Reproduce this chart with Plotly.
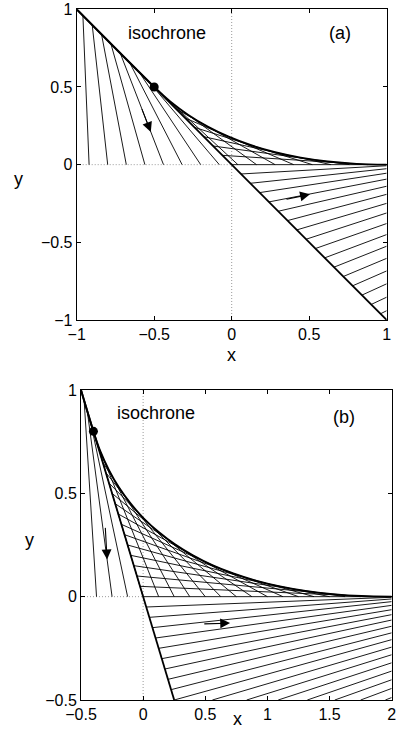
import plotly.graph_objects as go

W, H = 396, 739

# ---------------- Panel (a) data ----------------
# thick boundary line and isochrone
a_bound_x = [-1.0, 1.0]
a_bound_y = [1.0, -1.0]
a_iso_x = [-1.0, -0.5, -0.395, -0.28, -0.155, -0.02, 0.125, 0.28, 0.445, 0.62, 0.805, 1.0]
a_iso_y = [1.0, 0.5, 0.405, 0.32, 0.245, 0.18, 0.125, 0.08, 0.045, 0.02, 0.005, 0.0]
# thin rays: start (on boundary) -> end
a_x0 = [-0.96, -0.90, -0.84, -0.78, -0.72, -0.66, -0.60, -0.54, -0.48, -0.42, -0.36, -0.30,
        -0.24, -0.18, -0.12, -0.06, 0.00,
        0.06, 0.12, 0.18, 0.24, 0.30, 0.36, 0.42, 0.48, 0.54, 0.60, 0.66, 0.72, 0.78, 0.84, 0.90, 0.96]
a_y0 = [0.96, 0.90, 0.84, 0.78, 0.72, 0.66, 0.60, 0.54, 0.48, 0.42, 0.36, 0.30,
        0.24, 0.18, 0.12, 0.06, 0.00,
        -0.06, -0.12, -0.18, -0.24, -0.30, -0.36, -0.42, -0.48, -0.54, -0.60, -0.66, -0.72, -0.78, -0.84, -0.90, -0.96]
a_x1 = [-0.92, -0.80, -0.68, -0.56, -0.44, -0.32, -0.20, -0.08, 0.04, 0.16, 0.28, 0.40,
        0.52, 0.64, 0.76, 0.88, 1.00,
        1, 1, 1, 1, 1, 1, 1, 1, 1, 1, 1, 1, 1, 1, 1, 1]
a_y1 = [0] * 17 + [-0.007, -0.026, -0.055, -0.093, -0.139, -0.191, -0.249, -0.311,
                   -0.379, -0.450, -0.525, -0.603, -0.684, -0.767, -0.853, -0.940]
a_dot = (-0.5, 0.5)
a_arrows = [(-0.583, 0.367, -0.522, 0.21), (0.344, -0.225, 0.505, -0.191)]

# ---------------- Panel (b) data ----------------
b_bound_x = [-0.5, 0.25]
b_bound_y = [1.0, -0.5]
b_iso_x = [-0.5, -0.4, -0.344, -0.275, -0.194, -0.1, 0.006, 0.125, 0.256, 0.4, 0.556, 0.725,
           0.906, 1.1, 1.306, 1.525, 1.756, 2.0]
b_iso_y = [1.0, 0.8, 0.703, 0.6125, 0.528, 0.45, 0.378, 0.3125, 0.253, 0.2, 0.153, 0.1125,
           0.078, 0.05, 0.028, 0.0125, 0.003, 0.0]
b_x0 = [-0.475, -0.45, -0.425, -0.4, -0.375, -0.35, -0.325, -0.3, -0.275, -0.25, -0.225, -0.2,
        -0.175, -0.15, -0.125, -0.1, -0.075, -0.05, -0.025, 0.0,
        0.025, 0.05, 0.075, 0.1, 0.125, 0.15, 0.175, 0.2, 0.225, 0.25,
        0.557, 0.833, 1.087, 1.321, 1.542, 1.75, 1.949]
b_y0 = [0.95, 0.9, 0.85, 0.8, 0.75, 0.7, 0.65, 0.6, 0.55, 0.5, 0.45, 0.4,
        0.35, 0.3, 0.25, 0.2, 0.15, 0.1, 0.05, 0.0,
        -0.05, -0.1, -0.15, -0.2, -0.25, -0.3, -0.35, -0.4, -0.45, -0.5,
        -0.5, -0.5, -0.5, -0.5, -0.5, -0.5, -0.5]
b_x1 = [-0.375, -0.25, -0.125, 0.0, 0.125, 0.25, 0.375, 0.5, 0.625, 0.75, 0.875, 1.0,
        1.125, 1.25, 1.375, 1.5, 1.625, 1.75, 1.875, 2.0] + [2.0] * 17
b_y1 = [0] * 20 + [-0.003, -0.011, -0.024, -0.042, -0.063, -0.087, -0.113, -0.143, -0.175,
                   -0.208, -0.244, -0.281, -0.320, -0.360, -0.402, -0.444, -0.488]
b_dot = (-0.4, 0.8)
b_arrows = [(-0.305, 0.34, -0.29, 0.18), (0.48, -0.132, 0.70, -0.128)]

FONT = "Liberation Sans, Arial, Helvetica, sans-serif"
fig = go.Figure()


def segs(x0, y0, x1, y1):
    xs, ys = [], []
    for a, b, c, d in zip(x0, y0, x1, y1):
        xs += [a, c, None]
        ys += [b, d, None]
    return xs, ys


def panel(xa, ya, xr, yr, x0, y0, x1, y1, bx, by, ix, iy, dot):
    dotted = dict(color="#808080", width=0.8, dash="1px,2px")
    fig.add_trace(go.Scatter(x=[0, 0], y=[yr[0], yr[1]], mode="lines", xaxis=xa, yaxis=ya,
                             line=dotted, hoverinfo="skip"))
    fig.add_trace(go.Scatter(x=[xr[0], 0], y=[0, 0], mode="lines", xaxis=xa, yaxis=ya,
                             line=dotted, hoverinfo="skip"))
    xs, ys = segs(x0, y0, x1, y1)
    fig.add_trace(go.Scatter(x=xs, y=ys, mode="lines", xaxis=xa, yaxis=ya,
                             line=dict(color="black", width=0.9), hoverinfo="skip"))
    fig.add_trace(go.Scatter(x=bx, y=by, mode="lines", xaxis=xa, yaxis=ya,
                             line=dict(color="black", width=1.8), hoverinfo="skip"))
    fig.add_trace(go.Scatter(x=ix, y=iy, mode="lines", xaxis=xa, yaxis=ya,
                             line=dict(color="black", width=1.9, shape="spline"), hoverinfo="skip"))
    fig.add_trace(go.Scatter(x=[dot[0]], y=[dot[1]], mode="markers", xaxis=xa, yaxis=ya,
                             marker=dict(color="black", size=9), hoverinfo="skip"))


panel("x", "y", [-1, 1], [-1, 1], a_x0, a_y0, a_x1, a_y1, a_bound_x, a_bound_y, a_iso_x, a_iso_y, a_dot)
panel("x2", "y2", [-0.5, 2], [-0.5, 1], b_x0, b_y0, b_x1, b_y1, b_bound_x, b_bound_y, b_iso_x, b_iso_y, b_dot)

ann = []
for xr_, yr_, arrows in (("x", "y", a_arrows), ("x2", "y2", b_arrows)):
    for (sx, sy, ex, ey) in arrows:
        ann.append(dict(x=ex, y=ey, ax=sx, ay=sy, xref=xr_, yref=yr_, axref=xr_, ayref=yr_,
                        showarrow=True, arrowhead=2, arrowsize=1.8, arrowwidth=1.1, arrowcolor="black",
                        text=""))

txt = dict(font=dict(family=FONT, size=18, color="black"), showarrow=False)
ann += [
    dict(x=-0.42, y=0.845, xref="x", yref="y", text="isochrone", **txt),
    dict(x=0.70, y=0.845, xref="x", yref="y", text="(a)", **txt),
    dict(x=0.10, y=0.89, xref="x2", yref="y2", text="isochrone", **txt),
    dict(x=1.62, y=0.87, xref="x2", yref="y2", text="(b)", **txt),
    dict(x=11.7 / W, y=1 - 166.7 / H, xref="paper", yref="paper", text="y", **txt),
    dict(x=231 / W, y=1 - 355 / H, xref="paper", yref="paper", text="x", **txt),
    dict(x=22.7 / W, y=1 - 551.7 / H, xref="paper", yref="paper", text="y", **txt),
    dict(x=237.3 / W, y=1 - 731 / H, xref="paper", yref="paper", text="x", **txt),
]

ax_common = dict(showgrid=False, zeroline=False, showline=True, linecolor="black", linewidth=1,
                 mirror="ticks", ticks="inside", ticklen=4, tickcolor="black", automargin=False,
                 ticklabeloverflow="allow",
                 tickfont=dict(family=FONT, size=16, color="black"))

a_ticks = [-1, -0.5, 0, 0.5, 1]
a_ticktext = ["\u22121", "\u22120.5", "0", "0.5", "1"]
b_xticks = [-0.5, 0, 0.5, 1, 1.5, 2]
b_xticktext = ["\u22120.5", "0", "0.5", "1", "1.5", "2"]
b_yticks = [-0.5, 0, 0.5, 1]
b_yticktext = ["\u22120.5", "0", "0.5", "1"]

fig.update_layout(
    template="none",
    width=W, height=H, margin=dict(l=0, r=0, t=0, b=0, autoexpand=False),
    paper_bgcolor="white", plot_bgcolor="white", showlegend=False,
    annotations=ann,
    xaxis=dict(domain=[76.7 / W, 386.7 / W], range=[-1, 1], anchor="y",
               tickvals=a_ticks, ticktext=a_ticktext, **ax_common),
    yaxis=dict(domain=[1 - 320 / H, 1 - 9.3 / H], range=[-1, 1], anchor="x",
               tickvals=a_ticks, ticktext=a_ticktext, **ax_common),
    xaxis2=dict(domain=[81 / W, 391.7 / W], range=[-0.5, 2], anchor="y2",
                tickvals=b_xticks, ticktext=b_xticktext, **ax_common),
    yaxis2=dict(domain=[1 - 700 / H, 1 - 390 / H], range=[-0.5, 1], anchor="x2",
                tickvals=b_yticks, ticktext=b_yticktext, **ax_common),
)

fig.write_html("out.html")
